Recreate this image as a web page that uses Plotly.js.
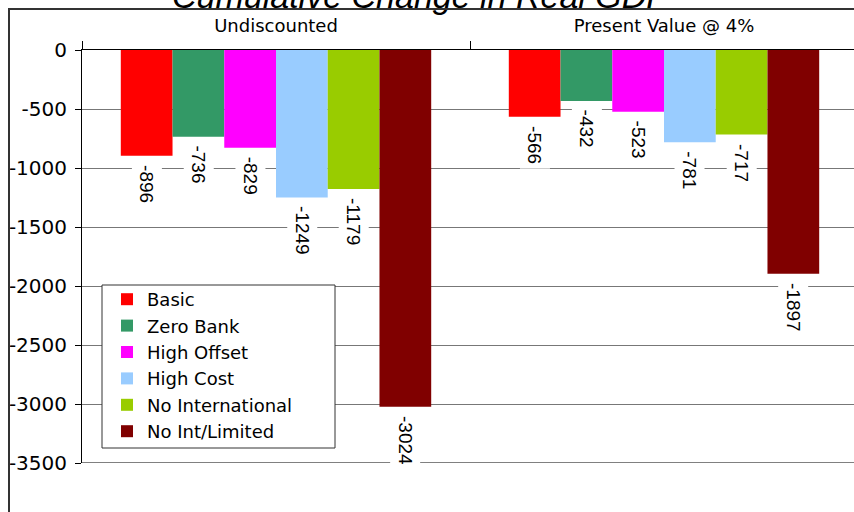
<!DOCTYPE html>
<html>
<head>
<meta charset="utf-8">
<script src="https://cdn.plot.ly/plotly-3.0.1.min.js"></script>
<style>
html,body{margin:0;padding:0;overflow:hidden;background:#fff;width:854px;height:512px;}
#wrap{position:relative;width:854px;height:512px;overflow:hidden;}
#chart{position:absolute;left:0;top:0;width:870px;height:512px;z-index:1;}
#frame{position:absolute;left:8px;top:8px;width:900px;height:600px;border-left:2px solid #333;border-top:2px solid #333;pointer-events:none;z-index:5;box-sizing:border-box;}
</style>
</head>
<body>
<div id="wrap">
<div id="chart"></div>
<div id="frame"></div>
</div>
<script>
var chartTitle = "Cumulative Change in Real GDP";
var categories = ["Undiscounted", "Present Value @ 4%"];
var seriesNames = ["Basic", "Zero Bank", "High Offset", "High Cost", "No International", "No Int/Limited"];
var basic = [-896, -566];
var zeroBank = [-736, -432];
var highOffset = [-829, -523];
var highCost = [-1249, -781];
var noInternational = [-1179, -717];
var noIntLimited = [-3024, -1897];
var seriesValues = [basic, zeroBank, highOffset, highCost, noInternational, noIntLimited];
var colors = ["#FF0000", "#339966", "#FF00FF", "#99CCFF", "#99CC00", "#800000"];
var yTickVals = [0, -500, -1000, -1500, -2000, -2500, -3000, -3500];

var traces = seriesNames.map(function (name, i) {
  return {
    type: "bar",
    name: name,
    x: categories,
    y: seriesValues[i],
    marker: { color: colors[i], line: { width: 0 } },
    hoverinfo: "skip"
  };
});

var groupWidth = 0.8;
var nSeries = seriesNames.length;
var annotations = [];
seriesValues.forEach(function (vals, i) {
  vals.forEach(function (v, j) {
    annotations.push({
      x: j - groupWidth / 2 + (i + 0.5) * groupWidth / nSeries,
      y: v,
      xref: "x", yref: "y",
      text: String(v),
      showarrow: false,
      textangle: 90,
      xanchor: "center",
      yanchor: "top",
      yshift: -4,
      bgcolor: "#ffffff",
      borderpad: 4,
      font: { family: "Liberation Sans, Arial, sans-serif", size: 19, color: "#000" }
    });
  });
});

annotations.push({
  text: chartTitle,
  xref: "paper", yref: "paper",
  x: (420 - 82) / 776, xanchor: "center",
  y: (463 - 17) / 413, yanchor: "bottom",
  showarrow: false,
  font: { family: "Liberation Sans, Arial, sans-serif", size: 34, style: "italic", color: "#000" }
});

var layout = {
  width: 870,
  height: 512,
  margin: { l: 82, r: 12, t: 50, b: 49, pad: 0 },
  paper_bgcolor: "rgba(255,255,255,0)",
  plot_bgcolor: "rgba(255,255,255,0)",
  barmode: "group",
  bargap: 0.2,
  bargroupgap: 0,
  xaxis: {
    type: "category",
    side: "top",
    showline: true, linecolor: "#000", linewidth: 1,
    ticks: "outside", tickson: "boundaries", ticklen: 8, tickcolor: "#000",
    ticklabelstandoff: 10,
    showgrid: false, zeroline: false,
    tickfont: { family: "DejaVu Sans, sans-serif", size: 18, color: "#000" },
    fixedrange: true
  },
  yaxis: {
    range: [-3500, 0],
    tickvals: yTickVals,
    ticktext: yTickVals.map(String),
    showline: true, linecolor: "#000", linewidth: 1,
    ticks: "outside", ticklen: 6, tickcolor: "#000",
    ticklabelstandoff: 4,
    showgrid: true, gridcolor: "#777", gridwidth: 1,
    zeroline: false,
    tickfont: { family: "DejaVu Sans, sans-serif", size: 20, color: "#000" },
    fixedrange: true
  },
  showlegend: true,
  legend: {
    x: (107 - 82) / 776, xanchor: "left",
    y: (463 - 281) / 413, yanchor: "top",
    bgcolor: "rgba(0,0,0,0)",
    borderwidth: 0,
    font: { family: "DejaVu Sans, sans-serif", size: 18, color: "#000" },
    traceorder: "normal"
  },
  shapes: [
    {
      type: "line", xref: "paper", yref: "y",
      x0: 0, x1: 1,
      y0: yTickVals[yTickVals.length - 1], y1: yTickVals[yTickVals.length - 1],
      line: { color: "#000", width: 1 }, layer: "below"
    },
    {
      type: "rect", xref: "paper", yref: "paper",
      x0: (102 - 82) / 776, x1: (335 - 82) / 776,
      y0: (463 - 448) / 413, y1: (463 - 285) / 413,
      line: { color: "#333", width: 1 }, fillcolor: "#ffffff", layer: "above"
    }
  ],
  annotations: annotations
};

Plotly.newPlot("chart", traces, layout, { displayModeBar: false, staticPlot: true });
</script>
</body>
</html>
